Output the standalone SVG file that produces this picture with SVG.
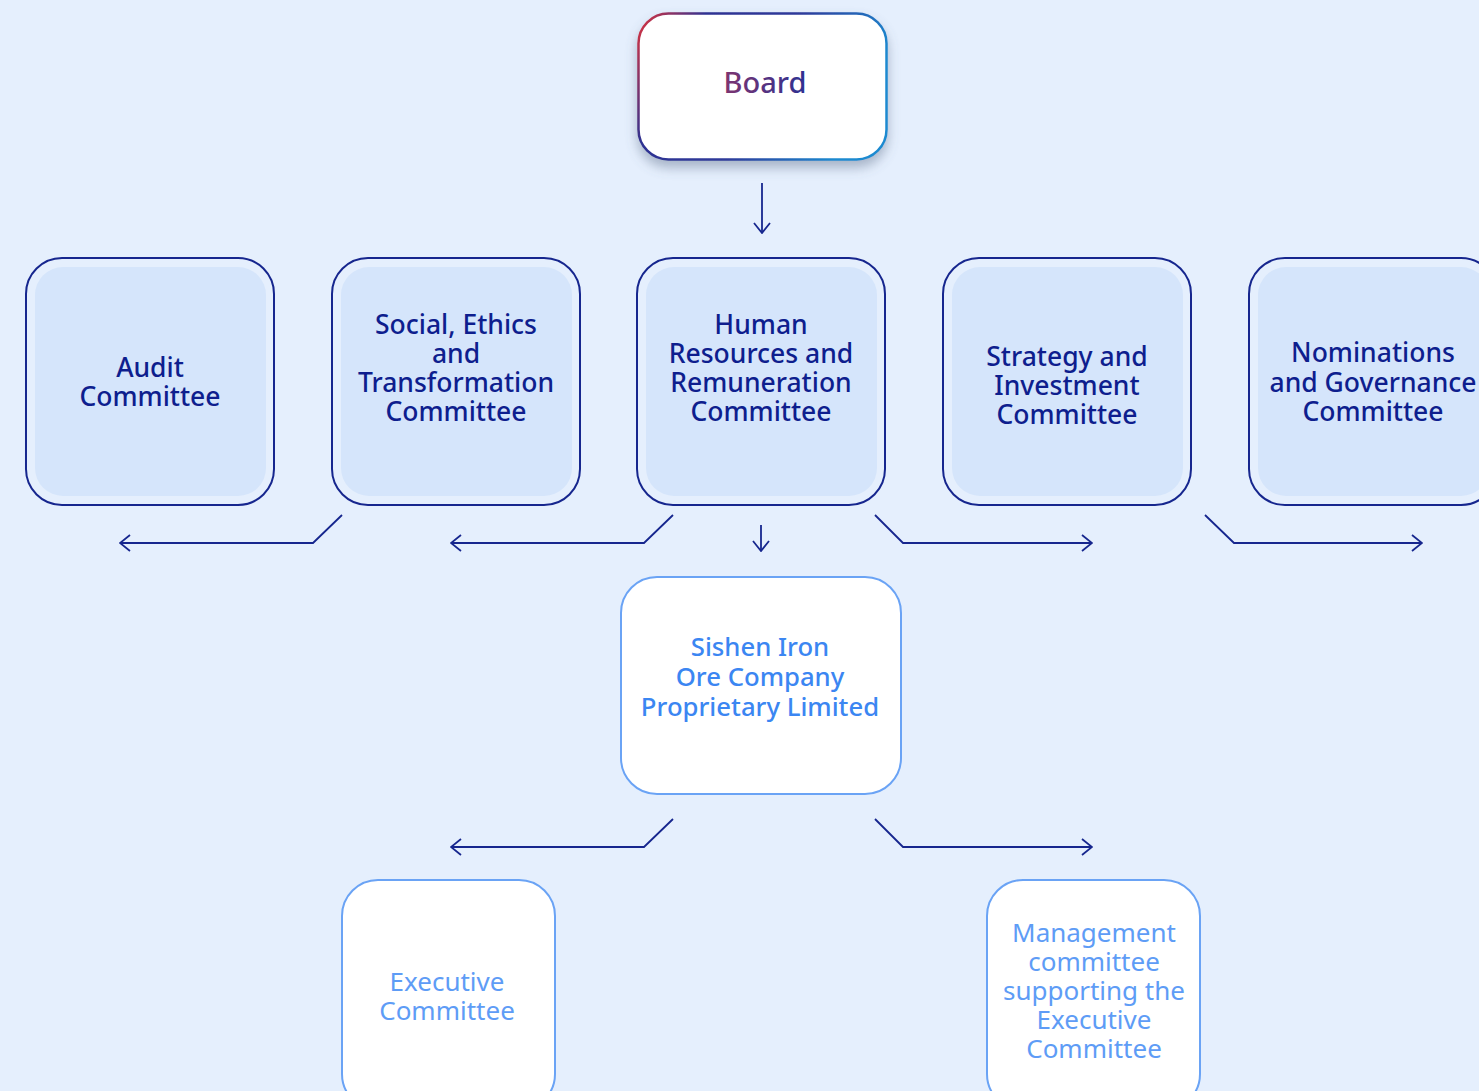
<svg xmlns="http://www.w3.org/2000/svg" width="1479" height="1091" viewBox="0 0 1479 1091">
<defs>
<linearGradient id="bordGrad" x1="0" y1="0" x2="1" y2="0.3">
<stop offset="0" stop-color="#E0323A"/>
<stop offset="0.25" stop-color="#2E3192"/>
<stop offset="0.6" stop-color="#2E3A9A"/>
<stop offset="1" stop-color="#1C8AD0"/>
</linearGradient>
<linearGradient id="txtGrad" x1="0" y1="0" x2="1" y2="0">
<stop offset="0" stop-color="#7E3470"/>
<stop offset="1" stop-color="#2E3192"/>
</linearGradient>
<filter id="shadow" x="-20%" y="-20%" width="140%" height="150%">
<feDropShadow dx="0" dy="7" stdDeviation="6" flood-color="#5A6A88" flood-opacity="0.45"/>
</filter>
<marker id="arr" viewBox="0 0 12 18" refX="11" refY="9" markerWidth="12" markerHeight="18" markerUnits="userSpaceOnUse" orient="auto">
<path d="M1,1 L11,9 L1,17" fill="none" stroke="#16268E" stroke-width="1.8"/>
</marker>
<style>
.com-out{fill:#E5EFFD;stroke:#16268E;stroke-width:2}
.com-in{fill:#D5E5FB}
.com-txt{font-family:"Noto Sans","Liberation Sans",sans-serif;font-size:26.5px;font-weight:500;fill:#0E1E8E;text-anchor:middle}
.sub-box{fill:#FFFFFF;stroke:#6AA3F5;stroke-width:2}
.sish-txt{font-family:"Noto Sans","Liberation Sans",sans-serif;font-size:25.7px;font-weight:500;fill:#3B86F2;text-anchor:middle}
.ex-txt{font-family:"Noto Sans","Liberation Sans",sans-serif;font-size:26px;font-weight:400;fill:#5E9CF6;text-anchor:middle}
.conn{fill:none;stroke:#16268E;stroke-width:1.8}
</style>
</defs>
<rect x="0" y="0" width="1479" height="1091" fill="#E5EFFD"/>

<g id="board">
<rect x="638.5" y="13.5" width="248" height="146" rx="30" fill="#FFFFFF" stroke="url(#bordGrad)" stroke-width="2.5" filter="url(#shadow)"/>
<text x="765" y="93" font-family="'Noto Sans','Liberation Sans',sans-serif" font-size="29" font-weight="500" fill="url(#txtGrad)" text-anchor="middle">Board</text>
</g>

<g id="audit">
<rect class="com-out" x="26" y="258" width="248" height="247" rx="36"/>
<rect class="com-in" x="35" y="267" width="231" height="229" rx="28"/>
<text class="com-txt"><tspan x="150" y="377">Audit</tspan><tspan x="150" y="406">Committee</tspan></text>
</g>

<g id="social">
<rect class="com-out" x="332" y="258" width="248" height="247" rx="36"/>
<rect class="com-in" x="341" y="267" width="231" height="229" rx="28"/>
<text class="com-txt"><tspan x="456" y="334">Social, Ethics</tspan><tspan x="456" y="363">and</tspan><tspan x="456" y="392">Transformation</tspan><tspan x="456" y="421">Committee</tspan></text>
</g>

<g id="hr">
<rect class="com-out" x="637" y="258" width="248" height="247" rx="36"/>
<rect class="com-in" x="646" y="267" width="231" height="229" rx="28"/>
<text class="com-txt"><tspan x="761" y="334">Human</tspan><tspan x="761" y="363">Resources and</tspan><tspan x="761" y="392">Remuneration</tspan><tspan x="761" y="421">Committee</tspan></text>
</g>

<g id="strategy">
<rect class="com-out" x="943" y="258" width="248" height="247" rx="36"/>
<rect class="com-in" x="952" y="267" width="231" height="229" rx="28"/>
<text class="com-txt"><tspan x="1067" y="366">Strategy and</tspan><tspan x="1067" y="395">Investment</tspan><tspan x="1067" y="424">Committee</tspan></text>
</g>

<g id="nominations">
<rect class="com-out" x="1249" y="258" width="248" height="247" rx="36"/>
<rect class="com-in" x="1258" y="267" width="231" height="229" rx="28"/>
<text class="com-txt"><tspan x="1373" y="362">Nominations</tspan><tspan x="1373" y="392">and Governance</tspan><tspan x="1373" y="421">Committee</tspan></text>
</g>

<g id="sishen">
<rect class="sub-box" x="621" y="577" width="280" height="217" rx="36"/>
<text class="sish-txt"><tspan x="760" y="656">Sishen Iron</tspan><tspan x="760" y="686">Ore Company</tspan><tspan x="760" y="716">Proprietary Limited</tspan></text>
</g>

<g id="executive">
<rect class="sub-box" x="342" y="880" width="213" height="230" rx="36"/>
<text class="ex-txt"><tspan x="447" y="991">Executive</tspan><tspan x="447" y="1020">Committee</tspan></text>
</g>

<g id="management">
<rect class="sub-box" x="987" y="880" width="213" height="230" rx="36"/>
<text class="ex-txt"><tspan x="1094" y="942">Management</tspan><tspan x="1094" y="971">committee</tspan><tspan x="1094" y="1000">supporting the</tspan><tspan x="1094" y="1029">Executive</tspan><tspan x="1094" y="1058">Committee</tspan></text>
</g>

<g id="connectors">
<path class="conn" d="M762,183 L762,233" marker-end="url(#arr)"/>
<path class="conn" d="M342,515 L313,543 L120,543" marker-end="url(#arr)"/>
<path class="conn" d="M673,515 L644,543 L451,543" marker-end="url(#arr)"/>
<path class="conn" d="M761,525 L761,551" marker-end="url(#arr)"/>
<path class="conn" d="M875,515 L903,543 L1092,543" marker-end="url(#arr)"/>
<path class="conn" d="M1205,515 L1234,543 L1422,543" marker-end="url(#arr)"/>
<path class="conn" d="M673,819 L644,847 L451,847" marker-end="url(#arr)"/>
<path class="conn" d="M875,819 L903,847 L1092,847" marker-end="url(#arr)"/>
</g>
</svg>
